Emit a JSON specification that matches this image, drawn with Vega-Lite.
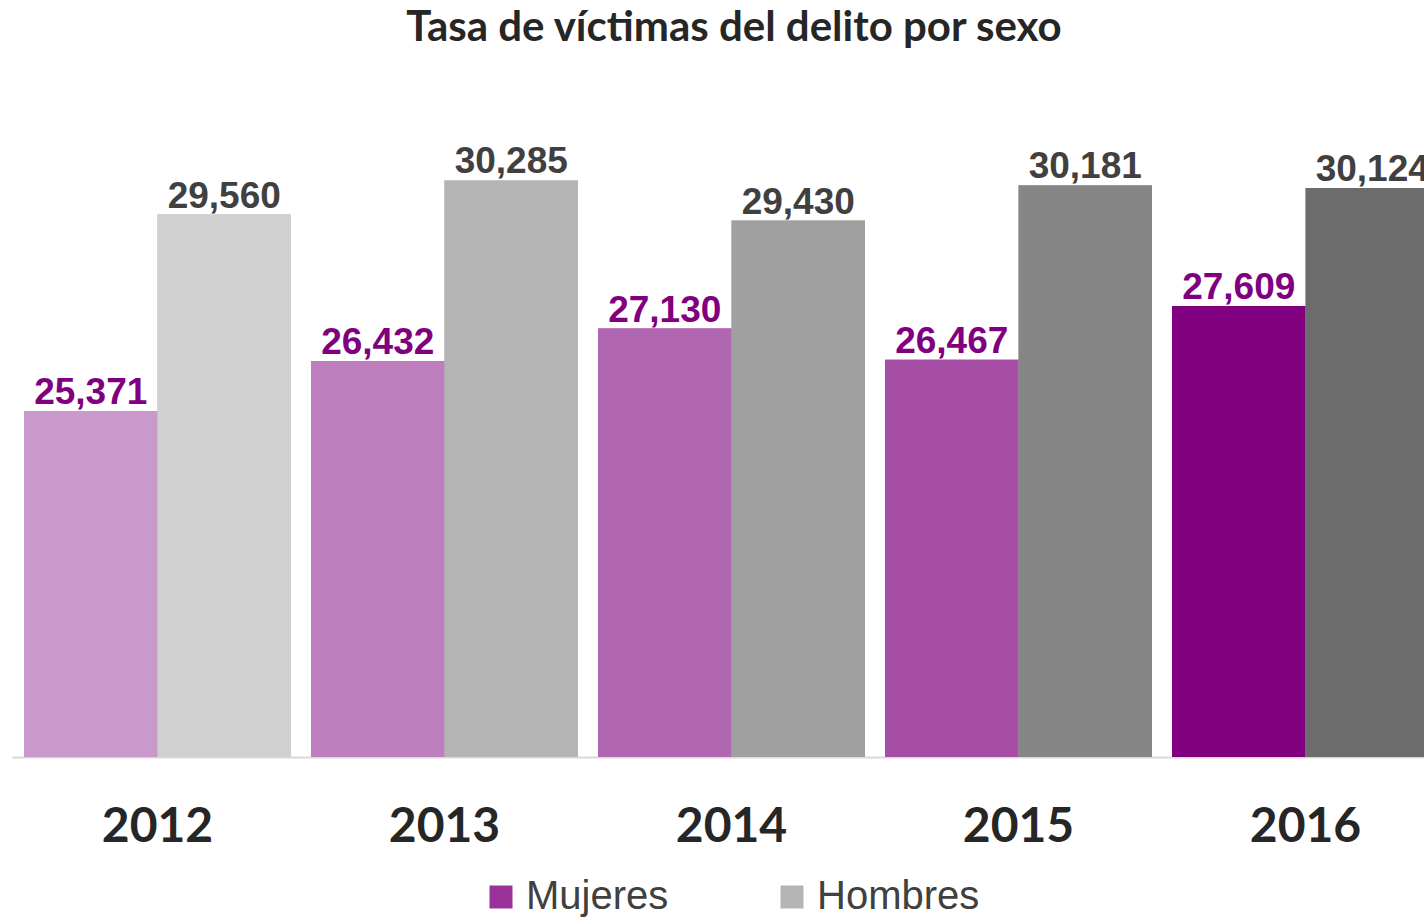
{
  "$schema": "https://vega.github.io/schema/vega-lite/v6.json",
  "autosize": {"type": "none"},
  "width": 1412,
  "height": 657,
  "padding": {"left": 12, "top": 100, "right": 0, "bottom": 164},
  "background": "#ffffff",
  "config": {"view": {"stroke": null}},
  "title": {
    "text": "Tasa de víctimas del delito por sexo",
    "font": "Lato",
    "fontSize": 42,
    "fontWeight": "bold",
    "color": "#262626",
    "anchor": "middle",
    "frame": "group",
    "baseline": "alphabetic",
    "dx": 16,
    "offset": 17
  },
  "data": {
    "values": [
      {"anio": "2012", "sexo": "Mujeres", "valor": 25371, "tono": "M2012"},
      {"anio": "2012", "sexo": "Hombres", "valor": 29560, "tono": "H2012"},
      {"anio": "2013", "sexo": "Mujeres", "valor": 26432, "tono": "M2013"},
      {"anio": "2013", "sexo": "Hombres", "valor": 30285, "tono": "H2013"},
      {"anio": "2014", "sexo": "Mujeres", "valor": 27130, "tono": "M2014"},
      {"anio": "2014", "sexo": "Hombres", "valor": 29430, "tono": "H2014"},
      {"anio": "2015", "sexo": "Mujeres", "valor": 26467, "tono": "M2015"},
      {"anio": "2015", "sexo": "Hombres", "valor": 30181, "tono": "H2015"},
      {"anio": "2016", "sexo": "Mujeres", "valor": 27609, "tono": "M2016"},
      {"anio": "2016", "sexo": "Hombres", "valor": 30124, "tono": "H2016"}
    ]
  },
  "encoding": {
    "x": {
      "field": "anio",
      "type": "nominal",
      "scale": {"range": [0, 1439], "paddingInner": 0.0697, "paddingOuter": 0.0418},
      "axis": {
        "title": null,
        "ticks": false,
        "labelAngle": 0,
        "labelFont": "Lato",
        "labelFontSize": 48,
        "labelFontWeight": "bold",
        "labelColor": "#262626",
        "labelBaseline": "alphabetic",
        "labelPadding": 84,
        "domainColor": "#D9D9D9",
        "domainWidth": 2,
        "grid": false
      }
    },
    "xOffset": {
      "field": "sexo",
      "type": "nominal",
      "scale": {"domain": ["Mujeres", "Hombres"], "paddingInner": 0, "paddingOuter": 0}
    },
    "y": {
      "field": "valor",
      "type": "quantitative",
      "scale": {"domain": [18000, 32000], "zero": false, "nice": false},
      "axis": null
    }
  },
  "layer": [
    {
      "mark": {"type": "bar", "clip": true},
      "encoding": {
        "color": {
          "field": "sexo",
          "type": "nominal",
          "scale": {"domain": ["Mujeres", "Hombres"], "range": ["#993399", "#B4B4B4"]},
          "legend": {
            "title": null,
            "orient": "none",
            "direction": "horizontal",
            "legendX": 469,
            "legendY": 777,
            "padding": 0,
            "symbolType": "square",
            "symbolSize": 529,
            "symbolStrokeWidth": 0,
            "labelFont": "Liberation Sans",
            "labelFontSize": 40,
            "labelColor": "#404040",
            "labelOffset": 5,
            "columnPadding": 103,
            "labelLimit": 400
          }
        }
      }
    },
    {
      "mark": {"type": "bar", "clip": true},
      "encoding": {
        "fill": {
          "field": "tono",
          "type": "nominal",
          "scale": {
            "domain": ["M2012", "M2013", "M2014", "M2015", "M2016", "H2012", "H2013", "H2014", "H2015", "H2016"],
            "range": ["#C999CB", "#BF7FBF", "#B166B1", "#A64DA6", "#800080", "#D0D0D0", "#B4B4B4", "#A0A0A0", "#868686", "#6C6C6C"]
          },
          "legend": null
        }
      }
    },
    {
      "mark": {
        "type": "text",
        "clip": true,
        "font": "Liberation Sans",
        "fontSize": 37,
        "fontWeight": "bold",
        "baseline": "alphabetic",
        "align": "center",
        "dy": -7
      },
      "encoding": {
        "text": {"field": "valor", "type": "quantitative", "format": ",d"},
        "color": {
          "condition": {"test": "datum.sexo === 'Mujeres'", "value": "#800080"},
          "value": "#404040"
        }
      }
    }
  ]
}
